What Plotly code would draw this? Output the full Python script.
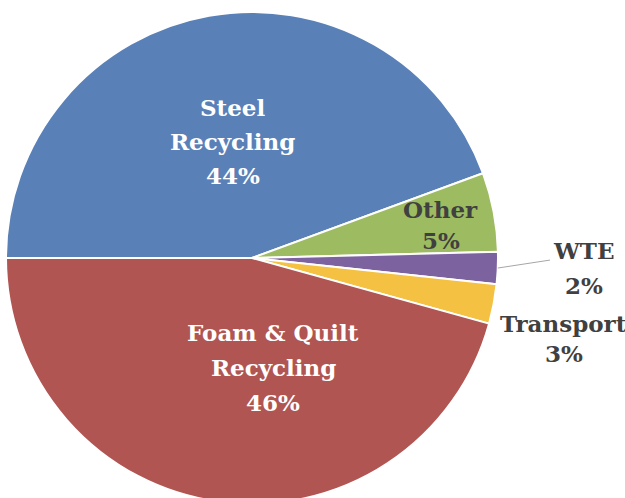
import math
import plotly.graph_objects as go

labels = ["Steel<br>Recycling", "Other", "WTE", "Transport", "Foam & Quilt<br>Recycling"]
values = [44.4, 5.2, 2.1, 2.6, 45.7]
colors = ["#5A80B8", "#9DBB61", "#7D62A0", "#F5C143", "#B05551"]
text_colors = ["white", "#404040", "#404040", "#404040", "white"]
# label placement: radius fraction, angular nudge (degrees), line spacing (px)
label_r = [0.48, 0.78, 1.35, 1.31, 0.455]
label_angle_shift = [-0.8, -0.8, 0.6, -3.7, 18.6]
line_gap = [34, 31, 35, 30, 35]

W, H = 625, 506
CX, CY, R = 252, 258, 246

fig = go.Figure(go.Pie(
    labels=labels,
    values=values,
    sort=False,
    direction="clockwise",
    rotation=270,
    marker=dict(colors=colors, line=dict(color="white", width=2)),
    textinfo="none",
    hoverinfo="label+percent",
    showlegend=False,
    domain=dict(x=[(CX - R) / W, (CX + R) / W],
                y=[1 - (CY + R) / H, 1 - (CY - R) / H]),
))

total = sum(values)
start = 180.0  # degrees, math convention, 9 o'clock
annotations = []
for i, v in enumerate(values):
    span = v / total * 360.0
    mid = start - span / 2
    start -= span
    ang = mid + label_angle_shift[i]
    rr = label_r[i] * R
    px = CX + rr * math.cos(math.radians(ang))
    py = CY - rr * math.sin(math.radians(ang))
    pct = round(v / total * 100)
    lines = labels[i].split("<br>") + [f"{pct}%"]
    n = len(lines)
    for k, ln in enumerate(lines):
        ly = py + (k - (n - 1) / 2) * line_gap[i]
        annotations.append(dict(
            x=px / W, y=1 - ly / H, xref="paper", yref="paper",
            xanchor="center", yanchor="middle",
            text=f"<b>{ln}</b>", showarrow=False,
            font=dict(family="DejaVu Serif", size=23, color=text_colors[i]),
            align="center",
        ))
    if labels[i] == "WTE":
        x0 = CX + R * math.cos(math.radians(mid))
        y0 = CY - R * math.sin(math.radians(mid))
        fig.add_shape(type="line", xref="paper", yref="paper",
                      x0=x0 / W, y0=1 - y0 / H,
                      x1=(px - 34) / W, y1=1 - (py - 8) / H,
                      line=dict(color="#A6A6A6", width=1))

fig.update_layout(
    width=W, height=H,
    margin=dict(l=0, r=0, t=0, b=0),
    paper_bgcolor="white",
    annotations=annotations,
)
fig.write_html(
    "out.html",
    config={"displayModeBar": False},
    post_script=(
        "document.documentElement.style.overflow='hidden';"
        "document.body.style.margin='0';"
        "document.body.style.overflow='hidden';"
    ),
)
